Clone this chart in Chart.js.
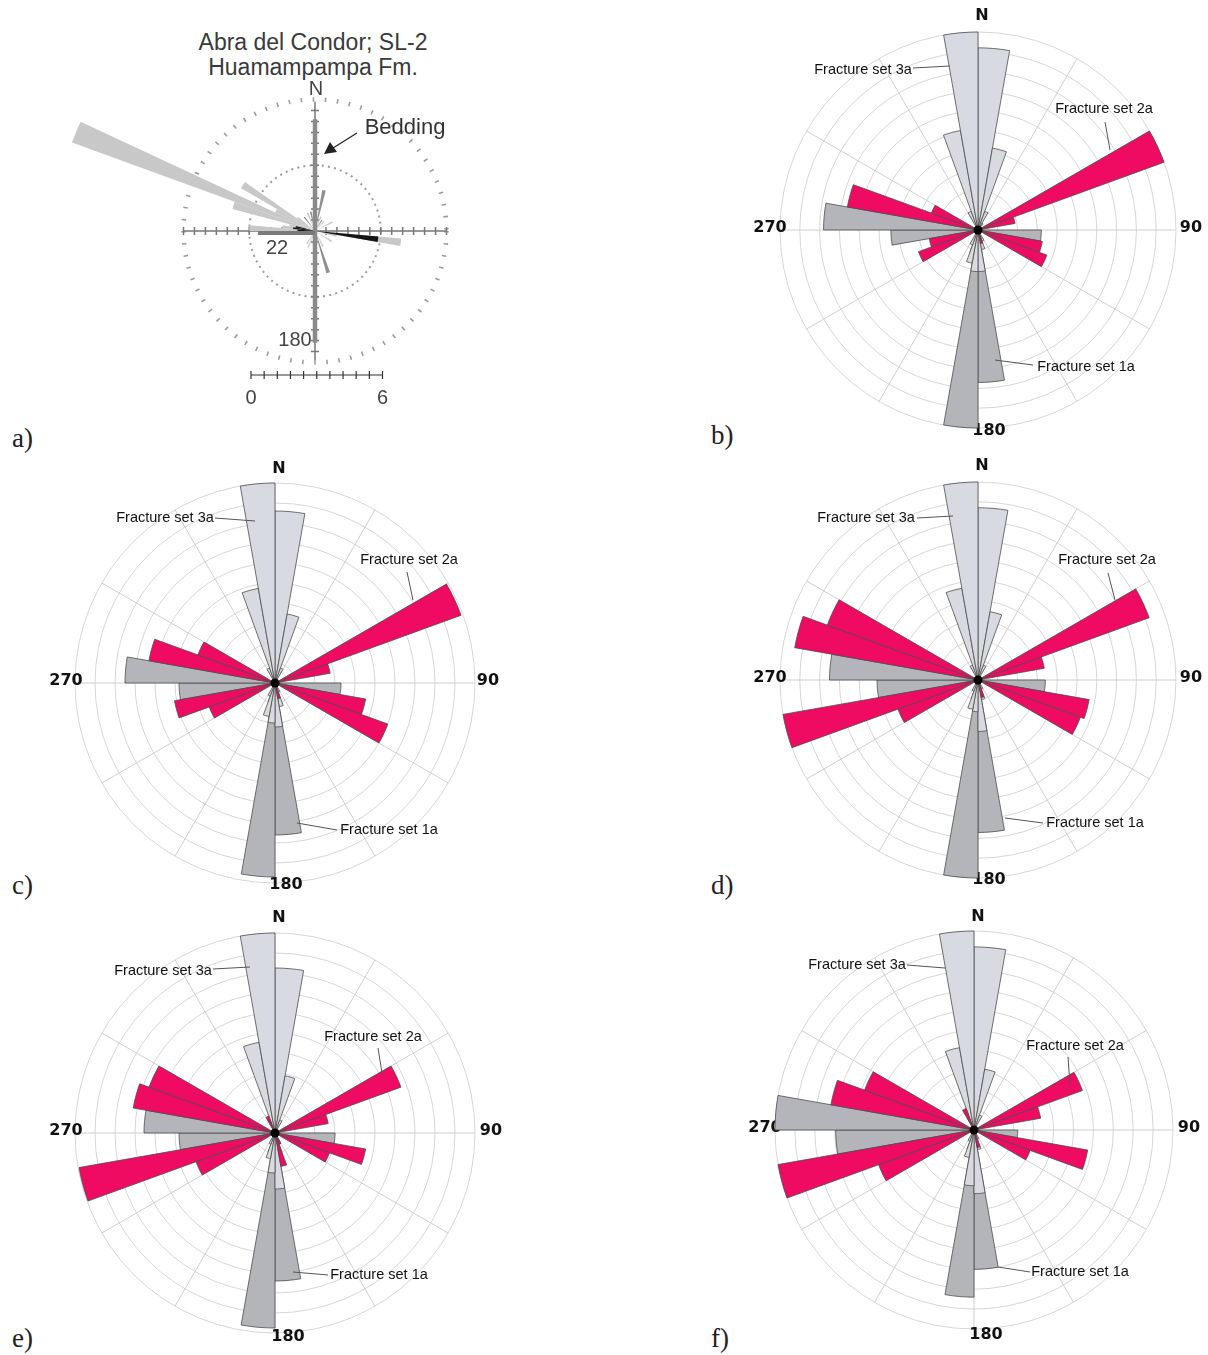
<!DOCTYPE html>
<html>
<head>
<meta charset="utf-8">
<title>Rose diagrams - fracture sets</title>
<script src="https://cdn.jsdelivr.net/npm/chart.js@4.4.1/dist/chart.umd.min.js"></script>
<style>
  body { margin: 0; background: #fff; }
  #page { position: relative; width: 1208px; height: 1355px; overflow: hidden; background: #fff; }
  canvas { position: absolute; }
  .tag { position: absolute; font-family: "Liberation Serif", serif; font-size: 27px; line-height: 30px; color: #222; }
  .title { position: absolute; width: 300px; text-align: center; font-family: "Liberation Sans", Arial, sans-serif; font-size: 23px; line-height: 25px; color: #3a3a3a; }
</style>
</head>
<body>
<div id="page">
  <div class="title" style="left:163px; top:30px;">Abra del Condor; SL-2<br>Huamampampa Fm.</div>
  <canvas id="roseA" width="560" height="560" style="left:35px; top:-49px;"></canvas>
  <canvas id="roseB" width="460" height="460" style="left:748px; top:0px;"></canvas>
  <canvas id="roseC" width="460" height="460" style="left:45px; top:453px;"></canvas>
  <canvas id="roseD" width="460" height="460" style="left:748px; top:450px;"></canvas>
  <canvas id="roseE" width="460" height="460" style="left:45px; top:903px;"></canvas>
  <canvas id="roseF" width="460" height="460" style="left:744px; top:900px;"></canvas>
  <div class="tag" style="left:12px; top:423px;">a)</div>
  <div class="tag" style="left:711px; top:420px;">b)</div>
  <div class="tag" style="left:12px; top:870px;">c)</div>
  <div class="tag" style="left:711px; top:870px;">d)</div>
  <div class="tag" style="left:12px; top:1323px;">e)</div>
  <div class="tag" style="left:711px; top:1323px;">f)</div>
</div>
<script>
// classes de direcao (azimute, 10 graus) para os diagramas b-f
const bearings10 = [0, 10, 20, 30, 40, 50, 60, 70, 80, 90, 100, 110,
  120, 130, 140, 150, 160, 170, 180, 190, 200, 210, 220, 230,
  240, 250, 260, 270, 280, 290, 300, 310, 320, 330, 340, 350];

// classes de 5 graus para o diagrama a
const bearings5 = [0, 5, 10, 15, 20, 25, 30, 35, 40, 45, 50, 55,
  60, 65, 70, 75, 80, 85, 90, 95, 100, 105, 110, 115,
  120, 125, 130, 135, 140, 145, 150, 155, 160, 165, 170, 175,
  180, 185, 190, 195, 200, 205, 210, 215, 220, 225, 230, 235,
  240, 245, 250, 255, 260, 265, 270, 275, 280, 285, 290, 295,
  300, 305, 310, 315, 320, 325, 330, 335, 340, 345, 350, 355];

// diagrama a (Abra del Condor) - cada linha = 60 graus
const lightA = [0, 0, 0, 0, 0.7, 0, 0, 0, 0.6, 0, 0, 0,
  0.9, 0, 0, 0, 0, 0, 0, 3.95, 1.0, 0, 0, 0,
  0.9, 0, 0, 0, 0, 0, 0.8, 0, 0, 0, 0, 0,
  0, 0, 0, 0, 0.8, 0, 0.7, 0, 0, 0, 0, 0,
  0, 0, 0, 0, 0, 0, 3.0, 1.5, 1.2, 3.9, 11.8, 2.0,
  3.9, 1.0, 0, 0, 0, 0, 0, 0.9, 0, 0, 0, 0];
const midA = [1.1, 0, 1.9, 0, 0, 0, 0.6, 0, 0, 0, 0, 0,
  0, 0, 0, 0, 0, 0, 0, 0, 0, 0, 0, 0,
  0, 0, 0, 0, 0, 0, 0, 0, 2.0, 0, 0, 0,
  0, 0.6, 0, 0, 0, 0, 0, 0, 0, 0, 0, 0,
  0, 0, 0, 0, 0, 0, 0, 0, 0, 0, 0, 0,
  0, 0, 0, 0, 0.8, 0, 0, 0, 0, 0.9, 0, 0];
const blackA = [0, 0, 0, 0, 0, 0, 0, 0, 0, 0, 0, 0,
  0, 0, 0, 0, 0, 0, 0, 2.9, 0, 0, 0, 0,
  0, 0, 0, 0, 0, 0, 0, 0, 0, 0, 0, 0,
  0, 0, 0, 0, 0, 0, 0, 0, 0, 0, 0, 0,
  0, 0, 0, 0, 0, 0, 0.8, 1.0, 0.9, 0, 0, 0,
  0, 0, 0, 0, 0, 0, 0, 0, 0, 0, 0, 0];
// estratificacao (bedding) e barra escura, azimute + comprimento
const beddingA = [{ bearing: 0, length: 5.1 }, { bearing: 180, length: 5.1 }];
const barA = [{ bearing: 270, length: 2.6 }];

// diagramas b-f: set 1a (cinza escuro), 2a (rosa), 3a (cinza claro)
const set1a_b = [0, 0, 0, 0, 0, 0,  0, 0, 0, 3.2, 0, 0,  0, 0, 0, 0, 0, 7.7,
  10.0, 1.2, 0, 0, 0, 0,  0, 0.8, 4.4, 7.8, 0, 0,  0, 0, 0, 0, 0, 0];
const set2a_b = [0, 0, 0, 0, 0, 0,  10.0, 1.9, 0, 0, 3.3, 3.7,  0, 0, 0, 0, 0.7, 0,
  0, 0, 0, 0, 0, 0,  3.2, 2.5, 0, 0, 6.7, 2.5,  0, 0, 0, 0, 0, 0];
const set3a_b = [9.2, 4.2, 1.0, 0.4, 0, 0,  0, 0, 0, 0, 0, 0,  0, 0, 0, 0.6, 1.0, 2.1,
  2.1, 1.7, 0.8, 0, 0, 0,  0, 0, 0, 0, 0, 0,  0, 0, 0, 1.0, 5.1, 10.0];

const set1a_c = [0, 0, 0, 0, 0, 0,  0, 0, 0, 3.3, 0, 0,  0, 0, 0, 0, 0, 7.6,
  9.7, 1.0, 0, 0, 0, 0,  0, 0.6, 4.8, 7.5, 0, 0,  0, 0, 0, 0, 0, 0];
const set2a_c = [0, 0, 0, 0, 0, 0,  9.9, 2.8, 0, 0, 4.6, 6.0,  0, 0, 0, 0, 0.8, 0,
  0, 0, 0, 0, 0, 0,  3.5, 5.1, 0, 0, 6.4, 4.1,  0, 0, 0, 0, 0, 0];
const set3a_c = [8.6, 3.5, 0.8, 0, 0, 0,  0, 0, 0, 0, 0, 0,  0, 0, 0, 0.5, 1.2, 2.2,
  2.0, 1.7, 0.7, 0, 0, 0,  0, 0, 0, 0, 0, 0,  0, 0, 0, 0.8, 4.8, 10.0];

const set1a_d = [0, 0, 0, 0, 0, 0,  0, 0, 0, 3.4, 0, 0,  0, 0, 0, 0, 0, 7.7,
  10.0, 1.0, 0, 0, 0, 0,  0, 0.6, 5.1, 7.5, 0, 0,  0, 0, 0, 0, 0, 0];
const set2a_d = [0, 0, 0, 0, 0, 0,  9.2, 3.4, 0, 0, 5.7, 5.5,  0, 0, 0, 0, 0.9, 0,
  0, 0, 0, 0, 0, 0,  4.3, 10.0, 0, 0, 9.4, 8.1,  0, 0, 0, 0, 0, 0];
const set3a_d = [8.7, 3.5, 0.8, 0, 0, 0,  0, 0, 0, 0, 0, 0,  0, 0, 0, 0.5, 1.0, 2.6,
  1.6, 1.5, 0.6, 0, 0, 0,  0, 0, 0, 0, 0, 0,  0, 0, 0, 0.8, 4.7, 10.0];

const set1a_e = [0, 0, 0, 0, 0, 0,  0, 0, 0, 3.0, 0, 0,  0, 0, 0, 0, 0, 7.4,
  9.75, 1.0, 0, 0, 0, 0,  0, 0.6, 4.8, 6.55, 0, 0,  0, 0, 0, 0, 0, 0];
const set2a_e = [0, 0, 0, 0, 0, 0,  6.7, 2.7, 0, 0, 4.6, 2.9,  0, 0, 0, 0.6, 1.7, 0,
  0, 0, 0, 0, 0, 0,  4.2, 9.95, 0, 0, 7.2, 6.7,  0, 0, 0, 0.9, 0, 0];
const set3a_e = [8.25, 2.9, 0.7, 0, 0, 0,  0, 0, 0, 0, 0, 0,  0, 0, 0, 0.5, 1.0, 2.8,
  2.0, 1.3, 0.6, 0, 0, 0,  0, 0, 0, 0, 0, 0,  0, 0, 0, 0.7, 4.6, 10.0];

const set1a_f = [0, 0, 0, 0, 0, 0,  0, 0, 0, 2.2, 0, 0,  0, 0, 0, 0, 0, 7.0,
  8.4, 1.0, 0, 0, 0, 0,  0, 0.6, 6.95, 10.0, 0, 0,  0, 0, 0, 0, 0, 0];
const set2a_f = [0, 0, 0, 0, 0, 0,  5.8, 3.4, 0, 0, 5.8, 3.0,  0, 0, 0, 0, 0.9, 0,
  0, 0, 0, 0, 0, 0,  5.1, 10.0, 0, 0, 7.3, 5.85,  0, 0, 0, 1.15, 0, 0];
const set3a_f = [9.2, 3.1, 0.8, 0, 0, 0,  0, 0, 0, 0, 0, 0,  0, 0, 0, 0.5, 1.0, 3.2,
  2.8, 1.4, 0.6, 0, 0, 0,  0, 0, 0, 0, 0, 0,  0, 0, 0, 0.7, 4.2, 10.0];

// cores
const corRosa = "#ef0a62";
const corClaro = "#d8dae1";
const corEscuro = "#b4b5ba";
const corBorda = "#4d4d4d";

// posicoes dos textos em relacao ao centro de cada diagrama
const layouts = {
  roseB: { r: 198,
    compass: [["N", 4, -214], ["90", 213, -2], ["180", 11, 201], ["270", -208, -2]],
    notes: [["Fracture set 3a", -115, -160, -65, -162, -28, -164],
            ["Fracture set 2a", 126, -121, 127, -108, 132, -80],
            ["Fracture set 1a", 108, 137, 17, 130, 55, 135]] },
  roseC: { r: 200,
    compass: [["N", 4, -214], ["90", 213, -2], ["180", 11, 202], ["270", -209, -2]],
    notes: [["Fracture set 3a", -110, -165, -60, -165, -20, -162],
            ["Fracture set 2a", 134, -123, 132, -111, 138, -83],
            ["Fracture set 1a", 114, 147, 22, 140, 62, 147]] },
  roseD: { r: 198,
    compass: [["N", 4, -214], ["90", 213, -2], ["180", 11, 200], ["270", -208, -2]],
    notes: [["Fracture set 3a", -112, -162, -61, -162, -25, -164],
            ["Fracture set 2a", 129, -120, 130, -107, 137, -80],
            ["Fracture set 1a", 117, 143, 27, 138, 65, 143]] },
  roseE: { r: 200,
    compass: [["N", 4, -215], ["90", 216, -2], ["180", 13, 204], ["270", -209, -2]],
    notes: [["Fracture set 3a", -112, -162, -62, -164, -25, -166],
            ["Fracture set 2a", 98, -96, 103, -85, 107, -60],
            ["Fracture set 1a", 104, 142, 18, 139, 53, 142]] },
  roseF: { r: 199,
    compass: [["N", 4, -213], ["90", 215, -2], ["180", 12, 205], ["270", -209, -2]],
    notes: [["Fracture set 3a", -117, -165, -67, -165, -29, -162],
            ["Fracture set 2a", 101, -84, 94, -73, 96, -45],
            ["Fracture set 1a", 106, 142, 24, 137, 56, 142]] },
};

// textos e ponto central dos diagramas b-f
const decoRosa = {
  id: "decoRosa",
  beforeDatasetsDraw(chart) {
    const lay = layouts[chart.canvas.id];
    const ctx = chart.ctx, r = chart.scales.r;
    ctx.save();
    ctx.font = "bold 16px 'DejaVu Sans', sans-serif";
    ctx.fillStyle = "#111";
    ctx.textAlign = "center";
    ctx.textBaseline = "middle";
    lay.compass.forEach(([t, dx, dy]) => ctx.fillText(t, r.xCenter + dx, r.yCenter + dy));
    ctx.restore();
  },
  afterDatasetsDraw(chart) {
    const lay = layouts[chart.canvas.id];
    const ctx = chart.ctx, r = chart.scales.r;
    const cx = r.xCenter, cy = r.yCenter;
    ctx.save();
    // ponto preto no centro
    ctx.fillStyle = "#000";
    ctx.beginPath();
    ctx.arc(cx, cy, 4.5, 0, Math.PI * 2);
    ctx.fill();
    // rotulos dos sets com linha de chamada
    ctx.strokeStyle = "#555";
    ctx.lineWidth = 1;
    ctx.font = "14.5px 'Liberation Sans', Arial, sans-serif";
    ctx.fillStyle = "#111";
    ctx.textAlign = "center";
    ctx.textBaseline = "middle";
    lay.notes.forEach(([t, tx, ty, x1, y1, x2, y2]) => {
      ctx.beginPath();
      ctx.moveTo(cx + x1, cy + y1);
      ctx.lineTo(cx + x2, cy + y2);
      ctx.stroke();
      ctx.fillText(t, cx + tx, cy + ty);
    });
    ctx.restore();
  },
};

function rosa(id, set1, set2, set3) {
  const lay = layouts[id];
  return new Chart(document.getElementById(id), {
    type: "polarArea",
    data: {
      labels: bearings10,
      datasets: [
        { label: "Fracture set 2a", data: set2, backgroundColor: corRosa, borderColor: corBorda, borderWidth: 0.8, order: 0 },
        { label: "Fracture set 3a", data: set3, backgroundColor: corClaro, borderColor: corBorda, borderWidth: 0.8, order: 1 },
        { label: "Fracture set 1a", data: set1, backgroundColor: corEscuro, borderColor: corBorda, borderWidth: 0.8, order: 2 },
      ],
    },
    options: {
      responsive: false,
      animation: false,
      layout: { padding: 230 - lay.r },
      scales: {
        r: {
          min: 0,
          max: 10,
          ticks: { display: false, stepSize: 1 },
          grid: { color: "#d6d6d6", lineWidth: 1 },
          angleLines: {
            display: true,
            lineWidth: 1,
            color: (c) => (c.index % 3 === 0 ? "#cfcfcf" : "rgba(0,0,0,0)"),
          },
          pointLabels: { display: false },
        },
      },
      plugins: { legend: { display: false }, tooltip: { enabled: false } },
    },
    plugins: [decoRosa],
  });
}

rosa("roseB", set1a_b, set2a_b, set3a_b);
rosa("roseC", set1a_c, set2a_c, set3a_c);
rosa("roseD", set1a_d, set2a_d, set3a_d);
rosa("roseE", set1a_e, set2a_e, set3a_e);
rosa("roseF", set1a_f, set2a_f, set3a_f);

// diagrama a: eixos com marcas, estratificacao, seta, escala
const decoA = {
  id: "decoA",
  beforeDatasetsDraw(chart) {
    const ctx = chart.ctx, r = chart.scales.r;
    const cx = r.xCenter, cy = r.yCenter;
    const u = (v) => r.getDistanceFromCenterForValue(v);
    ctx.save();
    ctx.strokeStyle = "#777";
    ctx.lineWidth = 1.5;
    ctx.beginPath();
    ctx.moveTo(cx - u(6), cy); ctx.lineTo(cx + u(6), cy);
    ctx.moveTo(cx, cy - u(5.9)); ctx.lineTo(cx, cy + u(5.9));
    for (let k = 1; k <= 12; k++) {
      const d = u(k * 0.5);
      [-1, 1].forEach((s) => {
        ctx.moveTo(cx + s * d, cy - 4); ctx.lineTo(cx + s * d, cy + 4);
        if (k < 12) { ctx.moveTo(cx - 4, cy + s * d); ctx.lineTo(cx + 4, cy + s * d); }
      });
    }
    ctx.stroke();
    ctx.restore();
  },
  afterDatasetsDraw(chart) {
    const ctx = chart.ctx, r = chart.scales.r;
    const cx = r.xCenter, cy = r.yCenter;
    const u = (v) => r.getDistanceFromCenterForValue(v);
    const ponta = (b, len) => {
      const a = (b * Math.PI) / 180;
      return [cx + Math.sin(a) * u(len), cy - Math.cos(a) * u(len)];
    };
    ctx.save();
    ctx.lineCap = "butt";
    // estratificacao
    ctx.strokeStyle = "#8a8a8a";
    ctx.lineWidth = 4.5;
    beddingA.forEach((m) => {
      const [x, y] = ponta(m.bearing, m.length);
      ctx.beginPath(); ctx.moveTo(cx, cy); ctx.lineTo(x, y); ctx.stroke();
    });
    ctx.strokeStyle = "#7a7a7a";
    ctx.lineWidth = 4;
    barA.forEach((m) => {
      const [x, y] = ponta(m.bearing, m.length);
      ctx.beginPath(); ctx.moveTo(cx, cy + 2); ctx.lineTo(x, y + 2); ctx.stroke();
    });
    // seta "Bedding"
    ctx.strokeStyle = "#222";
    ctx.fillStyle = "#222";
    ctx.lineWidth = 1.2;
    ctx.beginPath(); ctx.moveTo(cx + 42, cy - 98); ctx.lineTo(cx + 18, cy - 83); ctx.stroke();
    ctx.beginPath();
    ctx.moveTo(cx + 9, cy - 77);
    ctx.lineTo(cx + 15, cy - 89);
    ctx.lineTo(cx + 22, cy - 79);
    ctx.closePath(); ctx.fill();
    // textos
    ctx.font = "22px 'Liberation Sans', Arial, sans-serif";
    ctx.fillStyle = "#333";
    ctx.textAlign = "center";
    ctx.textBaseline = "middle";
    ctx.fillText("Bedding", cx + 90, cy - 103);
    ctx.font = "20px 'Liberation Sans', Arial, sans-serif";
    ctx.fillStyle = "#444";
    ctx.fillText("N", cx + 1, cy - 142);
    ctx.fillText("22", cx - 38, cy + 17);
    ctx.fillText("180", cx - 20, cy + 109);
    // barra de escala 0-6
    const y0 = cy + 144, x0 = cx - 64, len = u(6);
    ctx.strokeStyle = "#333";
    ctx.lineWidth = 1.2;
    ctx.beginPath();
    ctx.moveTo(x0, y0); ctx.lineTo(x0 + len, y0);
    for (let k = 0; k <= 10; k++) {
      const x = x0 + (len * k) / 10;
      ctx.moveTo(x, y0 - 4); ctx.lineTo(x, y0 + 4);
    }
    ctx.stroke();
    ctx.fillStyle = "#444";
    ctx.fillText("0", x0, y0 + 23);
    ctx.fillText("6", x0 + len, y0 + 23);
    ctx.restore();
  },
};

new Chart(document.getElementById("roseA"), {
  type: "polarArea",
  data: {
    labels: bearings5,
    datasets: [
      { label: "black", data: blackA, backgroundColor: "#151515", borderWidth: 0, order: 0 },
      { label: "mid", data: midA, backgroundColor: "#909090", borderWidth: 0, order: 1 },
      { label: "light", data: lightA, backgroundColor: "#c8c8c8", borderWidth: 0, order: 2 },
    ],
  },
  options: {
    responsive: false,
    animation: false,
    layout: { padding: 17 },
    scales: {
      r: {
        min: 0,
        max: 12,
        ticks: { display: false, stepSize: 3 },
        grid: {
          color: (c) => (c.tick && (c.tick.value === 3 || c.tick.value === 6) ? "#9c9c9c" : "rgba(0,0,0,0)"),
          lineWidth: (c) => (c.tick && c.tick.value === 6 ? 4.5 : 2),
          borderDash: (c) => (c.tick && c.tick.value === 6 ? [1.6, 10.5] : [2, 4.2]),
        },
        border: { dash: (c) => (c.tick && c.tick.value === 6 ? [1.6, 10.5] : [2, 4.2]) },
        angleLines: { display: false },
        pointLabels: { display: false },
      },
    },
    plugins: { legend: { display: false }, tooltip: { enabled: false } },
  },
  plugins: [decoA],
});
</script>
</body>
</html>
